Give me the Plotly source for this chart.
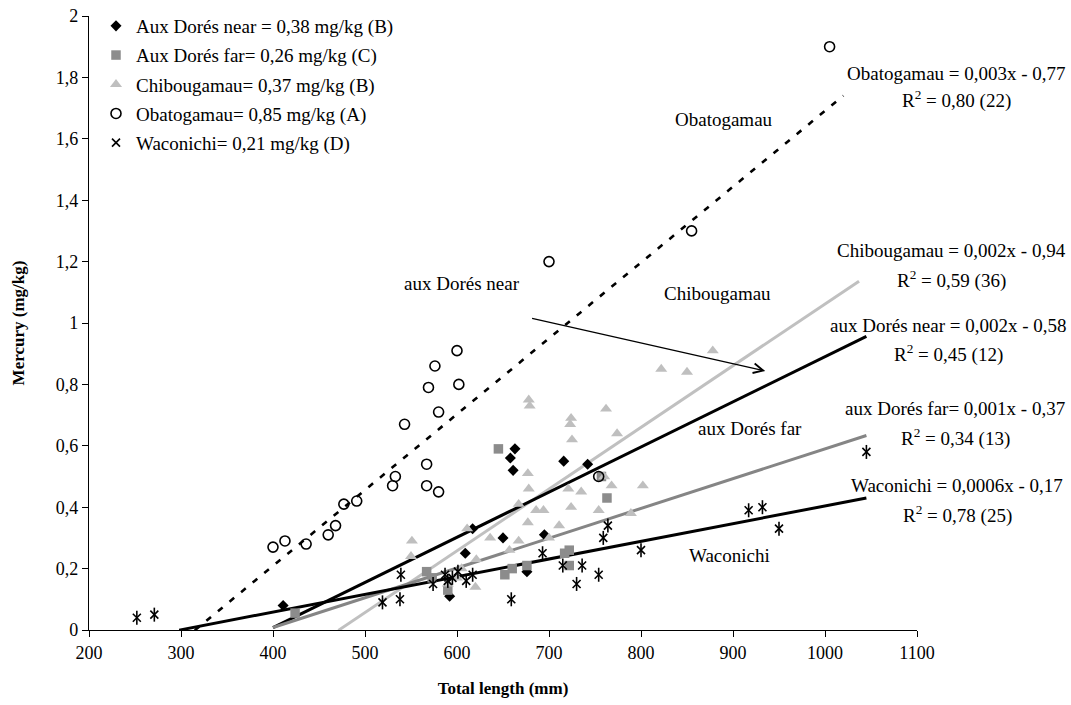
import numpy as np
import plotly.graph_objects as go

# ---------------- data ----------------
near_x = [411, 592, 609, 617, 650, 658, 661, 663, 695, 676, 716, 742]
near_y = [0.08, 0.11, 0.25, 0.33, 0.30, 0.56, 0.52, 0.59, 0.31, 0.19, 0.55, 0.54]

far_x = [424, 567, 573, 590, 645, 652, 660, 676, 717, 722, 722, 757, 763]
far_y = [0.055, 0.19, 0.17, 0.13, 0.59, 0.18, 0.20, 0.21, 0.25, 0.26, 0.21, 0.50, 0.43]

chib_x = [550, 551, 590, 600, 605, 611, 620, 621, 636, 657, 667, 667, 677, 677, 678, 678,
          679, 686, 694, 700, 711, 721, 724, 723, 724, 725, 735, 754, 760, 762, 768, 774,
          789, 802, 822, 850, 878]
chib_y = [0.24, 0.29, 0.15, 0.17, 0.20, 0.33, 0.14, 0.23, 0.30, 0.26, 0.29, 0.41, 0.35, 0.51, 0.46, 0.75,
          0.73, 0.39, 0.39, 0.30, 0.34, 0.46, 0.40, 0.67, 0.69, 0.62, 0.45, 0.39, 0.50, 0.72, 0.47, 0.64,
          0.38, 0.47, 0.85, 0.84, 0.91]

obat_x = [400, 413, 436, 460, 468, 477, 491, 530, 533, 543, 567, 567, 569, 576, 580, 580, 600, 602, 700, 754, 855, 1005]
obat_y = [0.27, 0.29, 0.28, 0.31, 0.34, 0.41, 0.42, 0.47, 0.50, 0.67, 0.54, 0.47, 0.79, 0.86, 0.71, 0.45, 0.91, 0.80, 1.20, 0.50, 1.30, 1.90]

waco_x = [252, 271, 519, 538, 539, 574, 587, 590, 595, 601, 610, 617, 659, 693, 715, 730, 736, 754, 759, 764, 800, 917, 932, 950, 1045]
waco_y = [0.04, 0.05, 0.09, 0.10, 0.18, 0.15, 0.18, 0.16, 0.17, 0.19, 0.16, 0.18, 0.10, 0.25, 0.21, 0.15, 0.21, 0.18, 0.30, 0.34, 0.26, 0.39, 0.40, 0.33, 0.58]

# trend lines: slope, intercept, x-start, x-end
trend_names = ["Obatogamau", "Chibougamau", "aux Dorés near", "aux Dorés far", "Waconichi"]
trend_slope = [0.00247, 0.00201, 0.00147, 0.00097, 0.000576]
trend_inter = [-0.779, -0.948, -0.58, -0.38, -0.172]
trend_x0 = [315, 471, 400, 400, 298]
trend_x1 = [1020, 1037, 1045, 1045, 1045]

legend_labels = ["Aux Dorés near = 0,38 mg/kg (B)", "Aux Dorés far= 0,26 mg/kg (C)",
                 "Chibougamau= 0,37 mg/kg (B)", "Obatogamau= 0,85 mg/kg (A)",
                 "Waconichi= 0,21 mg/kg (D)"]

eq_lines = [
    ("Obatogamau = 0,003x - 0,77", "R<sup>2</sup> = 0,80 (22)"),
    ("Chibougamau = 0,002x - 0,94", "R<sup>2</sup> = 0,59 (36)"),
    ("aux Dorés near = 0,002x - 0,58", "R<sup>2</sup> = 0,45 (12)"),
    ("aux Dorés far= 0,001x - 0,37", "R<sup>2</sup> = 0,34 (13)"),
    ("Waconichi = 0,0006x - 0,17", "R<sup>2</sup> = 0,78 (25)"),
]

# ---------------- layout helpers ----------------
W, H = 1071, 705
L, R, T, B = 89, 917, 16, 630
def px(xp):
    return (xp - L) / (R - L)
def py(yp):
    return (B - yp) / (B - T)

FONT = "Liberation Serif, Times New Roman, serif"

fig = go.Figure()

# trend lines first (under markers)
trend_colors = ["black", "#c0c0c0", "black", "#858585", "black"]
trend_dash = ["6px,9px", "solid", "solid", "solid", "solid"]
trend_width = [2.6, 3, 3, 3, 3]
for i in range(5):
    xs = np.array([trend_x0[i], trend_x1[i]], dtype=float)
    ys = trend_slope[i] * xs + trend_inter[i]
    fig.add_trace(go.Scatter(x=xs, y=ys, mode="lines", showlegend=False, hoverinfo="skip",
                             line=dict(color=trend_colors[i], width=trend_width[i], dash=trend_dash[i])))

fig.add_trace(go.Scatter(x=near_x, y=near_y, mode="markers", name=legend_labels[0], legendgroup="a",
                         marker=dict(symbol="diamond", size=8.5, color="black")))
fig.add_trace(go.Scatter(x=far_x, y=far_y, mode="markers", name=legend_labels[1], legendgroup="b",
                         marker=dict(symbol="square", size=9.5, color="#8c8c8c")))
fig.add_trace(go.Scatter(x=chib_x, y=chib_y, mode="markers", name=legend_labels[2], legendgroup="c",
                         marker=dict(symbol="triangle-up", size=10.5, color="#bfbfbf")))
fig.add_trace(go.Scatter(x=obat_x, y=obat_y, mode="markers", name=legend_labels[3], legendgroup="d",
                         marker=dict(symbol="circle-open", size=10, color="black", line=dict(width=1.6))))
fig.add_trace(go.Scatter(x=waco_x, y=waco_y, mode="markers", name=legend_labels[4], legendgroup="w",
                         marker=dict(symbol="x-thin-open", size=8, color="black", line=dict(width=1.6))))
fig.add_trace(go.Scatter(x=waco_x, y=waco_y, mode="markers", showlegend=False, legendgroup="w",
                         marker=dict(symbol="line-ns-open", size=10, color="black", line=dict(width=1.6))))

ann = []
# regression equation text
eq_cx = [956, 951, 948, 955, 957]
eq_y1 = [73, 251, 325, 408, 485]
eq_y2 = [100, 279, 353, 437, 514]
for i, (l1, l2) in enumerate(eq_lines):
    ann.append(dict(x=px(eq_cx[i]), y=py(eq_y1[i]), xref="paper", yref="paper", text=l1,
                    showarrow=False, xanchor="center", yanchor="middle"))
    ann.append(dict(x=px(eq_cx[i]), y=py(eq_y2[i]), xref="paper", yref="paper", text=l2,
                    showarrow=False, xanchor="center", yanchor="middle"))

# line labels
lab_text = ["Obatogamau", "aux Dorés near", "Chibougamau", "aux Dorés far", "Waconichi"]
lab_cx = [724, 462, 717, 750, 729]
lab_cy = [120, 283, 293, 428, 555]
for t, cx, cy in zip(lab_text, lab_cx, lab_cy):
    ann.append(dict(x=px(cx), y=py(cy), xref="paper", yref="paper", text=t,
                    showarrow=False, xanchor="center", yanchor="middle"))

# arrow
ann.append(dict(x=935, y=0.844, ax=680, ay=1.016, xref="x", yref="y", axref="x", ayref="y",
                text="", showarrow=True, arrowhead=5, arrowsize=1.6, arrowwidth=1.2, arrowcolor="black"))

fig.update_layout(
    width=W, height=H,
    margin=dict(l=L, r=W - R, t=T, b=H - B, autoexpand=False),
    paper_bgcolor="white", plot_bgcolor="white",
    separators=", ",
    font=dict(family=FONT, size=19, color="black"),
    annotations=ann,
    showlegend=True,
    legend=dict(x=px(96), y=py(7), xanchor="left", yanchor="top",
                font=dict(family=FONT, size=19, color="black"),
                bgcolor="rgba(0,0,0,0)", itemwidth=30, tracegroupgap=1.5),
)
fig.update_xaxes(range=[200, 1100], dtick=100, tick0=200, showgrid=False, zeroline=False,
                 showline=True, linecolor="black", linewidth=1.3, ticks="outside", ticklen=6,
                 tickcolor="black", tickwidth=1.3, tickfont=dict(size=18), automargin=False,
                 title=dict(text="<b>Total length (mm)</b>", font=dict(size=17), standoff=20))
fig.update_yaxes(range=[0, 2], dtick=0.2, tick0=0, showgrid=False, zeroline=False,
                 showline=True, linecolor="black", linewidth=1.3, ticks="outside", ticklen=6,
                 tickcolor="black", tickwidth=1.3, tickfont=dict(size=18), automargin=False,
                 title=dict(text="<b>Mercury (mg/kg)</b>", font=dict(size=17), standoff=26))

fig.write_html("out.html")
